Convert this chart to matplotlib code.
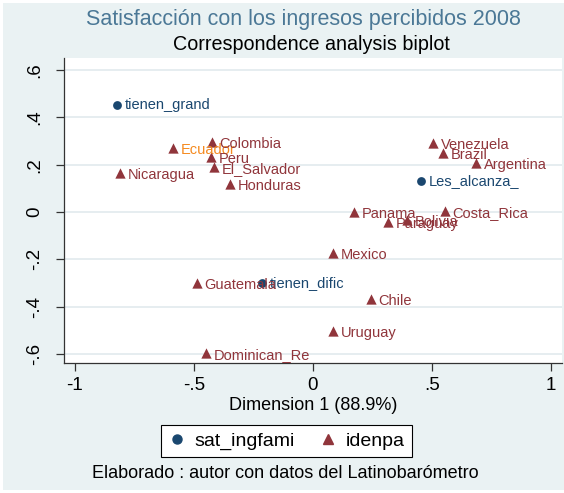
import matplotlib
matplotlib.use("Agg")
import matplotlib.pyplot as plt
from matplotlib.lines import Line2D
from matplotlib.patches import Rectangle
from matplotlib.ticker import FuncFormatter

# row points (sat_ingfami)
row_names = ["tienen_grand", "Les_alcanza_", "tienen_dific"]
row_x = [-0.824, 0.454, -0.214]
row_y = [0.452, 0.131, -0.300]

# column points (idenpa)
col_names = ["Ecuador", "Colombia", "Peru", "El_Salvador", "Nicaragua", "Honduras",
             "Venezuela", "Brazil", "Argentina", "Panama", "Costa_Rica", "Paraguay",
             "Bolivia", "Mexico", "Guatemala", "Chile", "Uruguay", "Dominican_Re"]
col_x = [-0.588, -0.424, -0.430, -0.416, -0.811, -0.349,
         0.504, 0.546, 0.685, 0.172, 0.555, 0.315,
         0.395, 0.084, -0.487, 0.244, 0.084, -0.450]
col_y = [0.270, 0.296, 0.232, 0.190, 0.165, 0.118,
         0.292, 0.249, 0.207, 0.000, 0.004, -0.042,
         -0.034, -0.173, -0.300, -0.368, -0.503, -0.596]

xticks = [-1, -0.5, 0, 0.5, 1]
yticks = [-0.6, -0.4, -0.2, 0, 0.2, 0.4, 0.6]

_BG, _GRID = "#EAF2F3", "#E4ECEF"
_BLUE, _RED, _ORANGE, _TITLE = "#1A476F", "#90353B", "#F58A1F", "#4B7896"
W, H = 564, 493

plt.rcParams["font.family"] = ["Liberation Sans", "DejaVu Sans"]


def stata_fmt(v, _pos=None):
    s = f"{v:g}"
    return s.replace("0.", ".")


fig = plt.figure(figsize=(W / 100, H / 100), dpi=100)
fig.patch.set_facecolor("white")
fig.patches.append(Rectangle((3 / W, 3 / H), 1, 1 - 6 / H, transform=fig.transFigure,
                             facecolor=_BG, edgecolor="none", zorder=-10))

ax = fig.add_axes([64 / W, 1 - 363 / H, (562 - 64) / W, (363 - 58) / H])
ax.set_facecolor("white")
ax.set_xlim(-1.046, 1.046)
ax.set_ylim(-0.638, 0.651)
ax.set_xticks(xticks)
ax.set_yticks(yticks)
ax.xaxis.set_major_formatter(FuncFormatter(stata_fmt))
ax.yaxis.set_major_formatter(FuncFormatter(stata_fmt))
ax.tick_params(axis="both", direction="out", length=6, width=0.9, color="#333333",
               labelsize=13.5, labelcolor="black")
ax.tick_params(axis="x", pad=4)
ax.tick_params(axis="y", pad=9)
for lab in ax.get_yticklabels():
    lab.set_rotation(90)
    lab.set_va("center")
ax.grid(True, axis="y", color=_GRID, linewidth=1.3)
ax.set_axisbelow(True)
for side, sp in ax.spines.items():
    sp.set_visible(side in ("bottom", "left"))
    sp.set_color("#333333")
    sp.set_linewidth(0.9)

off = 0.032
ax.scatter(row_x, row_y, s=40, marker="o", color=_BLUE, zorder=3, linewidths=0)
for n, x, y in zip(row_names, row_x, row_y):
    ax.text(x + off, y, n, color=_BLUE, fontsize=10.5, va="center", ha="left", zorder=4)

ax.scatter(col_x, col_y, s=55, marker="^", color=_RED, zorder=3, linewidths=0)
for n, x, y in zip(col_names, col_x, col_y):
    c = _ORANGE if n == "Ecuador" else _RED
    ax.text(x + off, y - 0.008, n, color=c, fontsize=10.5, va="center", ha="left", zorder=4)

fig.text(303 / W, 1 - 20 / H, "Satisfacción con los ingresos percibidos 2008",
         color=_TITLE, fontsize=15.5, ha="center", va="center")
fig.text(311 / W, 1 - 45 / H, "Correspondence analysis biplot",
         color="black", fontsize=14.2, ha="center", va="center")
fig.text(313 / W, 1 - 405 / H, "Dimension 1 (88.9%)", fontsize=13,
         ha="center", va="center")

handles = [Line2D([], [], marker="o", linestyle="none", color=_BLUE, markersize=6.5),
           Line2D([], [], marker="^", linestyle="none", color=_RED, markersize=7.5)]
leg = fig.legend(handles, ["sat_ingfami", "idenpa"], loc="center",
                 bbox_to_anchor=(286.5 / W, 1 - 441 / H), ncol=2, fontsize=14,
                 frameon=True, fancybox=False, edgecolor="black", framealpha=1,
                 handlelength=0.9, handletextpad=0.45, columnspacing=1.25,
                 borderpad=0.38, borderaxespad=0)
leg.get_frame().set_linewidth(0.8)

fig.text(285 / W, 1 - 474 / H, "Elaborado : autor con datos del Latinobarómetro",
         fontsize=13, ha="center", va="center")

fig.savefig("out.png", dpi=100, facecolor=fig.get_facecolor())
